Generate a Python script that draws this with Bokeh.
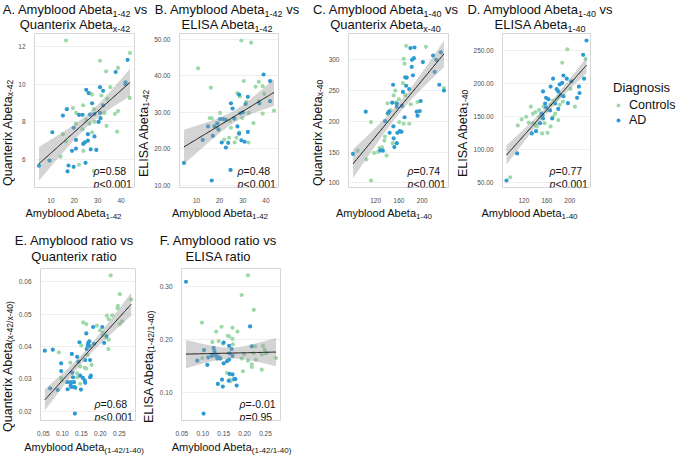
import numpy as np
from bokeh.plotting import figure
from bokeh.models import (Range1d, FixedTicker, PrintfTickFormatter, Label, Div,
                          Legend, LegendItem, Spacer)
from bokeh.layouts import column, row
from bokeh.embed import file_html
from bokeh.resources import INLINE

FONT = "Liberation Sans"
GREEN = "#9dd9a9"
BLUE = "#2e9ad3"

# ---------------- data ----------------
# Panel A: Amyblood Abeta1-42 vs Quanterix Abeta x-42
A_ctrl_x = [16.4, 31.0, 43.8, 38.7, 33.6, 35.4, 43.7, 26.9, 27.6, 23.8, 19.4, 20.8, 28.4, 34.1, 31.6, 38.7, 37.4,
            20.6, 25.1, 26.5, 23.5, 27.6, 38.3, 33.8, 15.1, 16.4, 23.9, 14.1, 22.0, 28.4, 28.7, 32.9]
A_ctrl_y = [12.33, 11.25, 11.67, 10.87, 10.68, 9.84, 9.27, 9.5, 9.45, 8.88, 8.73, 8.47, 8.67, 9.22, 9.4, 8.57, 8.42,
            7.9, 8.1, 7.9, 7.6, 7.44, 7.47, 7.78, 7.34, 6.96, 6.45, 6.14, 5.71, 5.37, 7.99, 8.47]
A_ad_x = [42.8, 37.7, 41.9, 41.9, 31.0, 32.3, 25.1, 26.1, 16.8, 15.1, 22.0, 23.5, 27.6, 26.7, 28.6, 31.0, 32.3, 31.2,
          30.4, 19.7, 10.6, 20.7, 25.8, 23.8, 24.5, 25.8, 28.6, 29.4, 27.0, 19.0, 20.7, 24.8, 17.5, 17.1, 9.4, 4.9, 19.7]
A_ad_y = [11.3, 10.65, 10.1, 10.0, 9.84, 9.65, 9.7, 9.53, 8.67, 8.33, 8.37, 8.37, 8.98, 8.38, 8.42, 8.47, 8.88, 8.19,
          7.99, 7.68, 7.44, 7.03, 7.34, 6.82, 6.9, 6.99, 7.22, 6.5, 6.53, 6.45, 6.57, 5.81, 5.67, 5.36, 5.93, 5.66, 5.6]

# Panel B: Amyblood Abeta1-42 vs ELISA Abeta1-42
B_ctrl_x = [29.4, 33.6, 10.7, 16.2, 30.4, 35.5, 38.6, 36.9, 39.3, 27.7, 28.7, 31.5, 43.5, 20.2, 15.7, 16.6, 18.8,
            19.1, 24.4, 26.5, 29.8, 32.6, 38.6, 24.9, 28.4, 24.1, 22.0, 27.3, 32.5, 26.5, 34.6, 37.0]
B_ctrl_y = [49.6, 49.0, 42.0, 36.7, 38.5, 36.96, 37.1, 38.3, 35.0, 35.2, 34.3, 32.8, 30.4, 29.8, 28.4, 28.3, 27.0,
            25.7, 27.6, 28.1, 28.4, 29.8, 29.6, 25.7, 24.5, 23.0, 22.5, 23.0, 21.7, 21.7, 27.0, 33.0]
B_ad_x = [39.0, 41.8, 28.4, 32.2, 24.9, 25.6, 31.2, 37.2, 41.8, 30.1, 29.0, 26.3, 21.6, 20.2, 22.7, 17.8, 19.1, 15.0,
          19.5, 17.1, 12.7, 27.7, 28.4, 32.2, 29.4, 30.8, 20.9, 22.7, 23.7, 4.6, 24.7, 16.6]
B_ad_y = [40.3, 38.5, 34.8, 34.2, 32.4, 31.0, 32.2, 32.4, 33.0, 30.0, 29.7, 28.3, 28.1, 28.1, 27.9, 26.1, 26.9, 26.1,
          25.2, 23.5, 22.4, 26.1, 24.1, 24.6, 22.3, 21.9, 21.7, 20.3, 21.6, 16.1, 14.2, 11.3]

# Panel C: Amyblood Abeta1-40 vs Quanterix Abeta x-40
C_ctrl_x = [172.3, 206.4, 168.0, 169.6, 166.9, 153.6, 150.9, 160.0, 154.7, 140.3, 140.3, 145.6, 170.7, 192.0, 180.3,
            160.5, 168.0, 177.6, 112.0, 136.0, 134.9, 130.7, 124.3, 126.9, 117.3, 138.7, 149.3, 104.0, 89.1, 112.0, 237.3]
C_ctrl_y = [322.7, 321.1, 301.6, 293.7, 262.0, 250.0, 242.0, 235.6, 230.3, 229.3, 211.9, 218.2, 242.5, 231.4, 227.7,
            198.7, 196.0, 196.0, 198.7, 175.0, 168.6, 157.5, 150.1, 156.5, 148.6, 144.3, 164.4, 138.0, 152.2, 103.7, 254.0]
C_ad_x = [81.1, 102.9, 136.0, 149.9, 148.3, 156.3, 156.3, 165.3, 169.6, 166.9, 170.7, 172.3, 173.3, 177.6, 179.7, 186.7,
          182.4, 185.6, 181.9, 184.0, 195.7, 190.4, 192.0, 201.1, 218.7, 221.3, 224.0, 229.3, 232.0, 237.3, 150.4, 144.0,
          150.9, 157.3, 161.6, 164.3, 156.3, 152.0, 132.3, 128.0, 142.9, 141.3, 197.3]
C_ad_y = [147.0, 215.6, 200.3, 259.4, 230.3, 228.8, 223.5, 225.0, 206.6, 247.8, 271.5, 257.8, 271.0, 252.5, 319.0, 320.0,
          300.0, 302.6, 288.4, 274.7, 216.6, 215.6, 209.2, 296.3, 306.9, 280.5, 300.0, 259.4, 312.1, 250.0, 191.8, 181.3,
          172.3, 181.3, 184.0, 182.9, 164.4, 158.0, 152.2, 152.8, 215.6, 213.5, 233.0]

# Panel D: Amyblood Abeta1-40 vs ELISA Abeta1-40
D_ctrl_x = [195.8, 186.8, 227.5, 201.1, 96.2, 109.4, 116.3, 124.2, 132.2, 135.9, 140.1, 146.5, 154.4, 161.3, 166.6,
            170.9, 177.2, 179.9, 174.6, 170.9, 179.9, 161.3, 151.8, 156.0, 140.1, 142.8, 135.9, 128.5, 147.0, 182.5,
            187.8, 209.0, 166.6]
D_ctrl_y = [252.0, 231.6, 237.4, 191.9, 57.3, 136.2, 145.4, 149.3, 164.8, 154.1, 156.5, 159.9, 164.8, 159.0, 167.7,
            173.5, 175.9, 179.3, 154.1, 149.3, 144.4, 125.0, 124.1, 139.6, 137.2, 134.7, 139.6, 140.6, 149.3, 167.7,
            172.5, 164.8, 134.7]
D_ad_x = [229.1, 223.3, 224.9, 215.9, 217.0, 212.7, 196.8, 202.6, 194.7, 188.9, 186.8, 182.5, 170.9, 166.6, 153.4,
          158.7, 162.9, 177.2, 179.9, 183.6, 188.9, 174.6, 179.9, 165.6, 157.1, 158.7, 152.3, 148.1, 153.4, 141.2,
          133.8, 150.7, 108.3, 89.8, 169.3]
D_ad_y = [265.5, 243.7, 207.4, 195.3, 185.6, 178.3, 170.1, 203.5, 207.4, 212.2, 201.1, 198.7, 207.4, 195.3, 188.0,
          178.3, 175.9, 191.4, 188.0, 183.2, 180.8, 169.6, 161.4, 159.0, 169.6, 163.8, 151.7, 139.6, 146.8, 127.5,
          124.1, 154.1, 93.6, 52.4, 146.8]

# Panel E: Amyblood ratio vs Quanterix ratio
E_ctrl_x = [0.227, 0.251, 0.281, 0.246, 0.245, 0.257, 0.251, 0.231, 0.222, 0.217, 0.155, 0.163, 0.191, 0.199, 0.207,
            0.206, 0.216, 0.222, 0.221, 0.150, 0.091, 0.121, 0.167, 0.177, 0.147, 0.159, 0.163, 0.139, 0.139, 0.097,
            0.099, 0.131, 0.147]
E_ctrl_y = [0.0619, 0.0561, 0.0545, 0.0525, 0.0518, 0.0477, 0.0469, 0.0496, 0.0484, 0.0495, 0.0474, 0.0469, 0.0464,
            0.0450, 0.0442, 0.0435, 0.0426, 0.0421, 0.0392, 0.0403, 0.0382, 0.0350, 0.0374, 0.0343, 0.0338, 0.0334,
            0.0332, 0.0317, 0.0305, 0.0303, 0.0295, 0.0290, 0.0285]
E_ad_x = [0.054, 0.075, 0.097, 0.097, 0.125, 0.145, 0.163, 0.167, 0.168, 0.171, 0.172, 0.181, 0.183, 0.205, 0.216,
          0.210, 0.139, 0.142, 0.164, 0.173, 0.160, 0.126, 0.128, 0.122, 0.130, 0.147, 0.154, 0.159, 0.173, 0.175,
          0.113, 0.122, 0.124, 0.131, 0.134, 0.114, 0.088, 0.068, 0.160, 0.149, 0.133]
E_ad_y = [0.0387, 0.0390, 0.0348, 0.0324, 0.0377, 0.0413, 0.0440, 0.0403, 0.0411, 0.0416, 0.0401, 0.0460, 0.0408,
          0.0460, 0.0432, 0.0411, 0.0368, 0.0353, 0.0392, 0.0358, 0.0358, 0.0319, 0.0305, 0.0290, 0.0290, 0.0310,
          0.0303, 0.0295, 0.0305, 0.0310, 0.0290, 0.0279, 0.0275, 0.0275, 0.0273, 0.0268, 0.0266, 0.0271, 0.0288,
          0.0267, 0.0193]

# Panel F: Amyblood ratio vs ELISA ratio
F_ctrl_x = [0.208, 0.193, 0.222, 0.098, 0.145, 0.171, 0.183, 0.132, 0.160, 0.163, 0.171, 0.123, 0.138, 0.148, 0.172,
            0.225, 0.244, 0.248, 0.250, 0.241, 0.252, 0.275, 0.199, 0.222, 0.193, 0.208, 0.217, 0.217, 0.227, 0.099,
            0.158, 0.196, 0.165, 0.167, 0.241]
F_ctrl_y = [0.321, 0.284, 0.256, 0.232, 0.224, 0.222, 0.215, 0.215, 0.207, 0.206, 0.201, 0.195, 0.197, 0.192, 0.191,
            0.187, 0.188, 0.181, 0.174, 0.172, 0.175, 0.165, 0.172, 0.174, 0.164, 0.160, 0.153, 0.148, 0.162, 0.165,
            0.137, 0.140, 0.124, 0.121, 0.143]
F_ad_x = [0.060, 0.102, 0.213, 0.217, 0.103, 0.087, 0.111, 0.113, 0.126, 0.128, 0.128, 0.131, 0.133, 0.135, 0.139,
          0.142, 0.122, 0.127, 0.150, 0.163, 0.169, 0.171, 0.158, 0.163, 0.150, 0.164, 0.171, 0.175, 0.178, 0.146,
          0.162, 0.136, 0.148, 0.181, 0.164]
F_ad_y = [0.309, 0.060, 0.2247, 0.187, 0.180, 0.160, 0.152, 0.166, 0.184, 0.178, 0.174, 0.171, 0.168, 0.164, 0.166,
          0.164, 0.169, 0.172, 0.194, 0.188, 0.182, 0.169, 0.159, 0.162, 0.155, 0.135, 0.134, 0.125, 0.125, 0.124,
          0.122, 0.116, 0.111, 0.113, 0.174]

# tick values
A_xticks = [10, 20, 30, 40]
A_yticks = [6, 8, 10, 12]
B_xticks = [10, 20, 30, 40]
B_yticks = [10, 20, 30, 40, 50]
C_xticks = [120, 160, 200]
C_yticks = [100, 150, 200, 250, 300]
D_xticks = [120, 160, 200]
D_yticks = [50, 100, 150, 200, 250]
E_xticks = [0.05, 0.10, 0.15, 0.20, 0.25]
E_yticks = [0.02, 0.03, 0.04, 0.05, 0.06]
F_xticks = [0.05, 0.10, 0.15, 0.20, 0.25]
F_yticks = [0.10, 0.20, 0.30]

# statistics text
rho_text = ["=0.58", "=0.48", "=0.74", "=0.77", "=0.68", "=-0.01"]
p_text = ["<0.001", "<0.001", "<0.001", "<0.001", "<0.001", "=0.95"]

titles = [
    "A. Amyblood Abeta<sub>1-42</sub> vs<br>Quanterix Abeta<sub>x-42</sub>",
    "B. Amyblood Abeta<sub>1-42</sub> vs<br>ELISA Abeta<sub>1-42</sub>",
    "C. Amyblood Abeta<sub>1-40</sub> vs<br>Quanterix Abeta<sub>x-40</sub>",
    "D. Amyblood Abeta<sub>1-40</sub> vs<br>ELISA Abeta<sub>1-40</sub>",
    "E. Amyblood ratio vs<br>Quanterix ratio",
    "F. Amyblood ratio vs<br>ELISA ratio",
]
x_labels = [
    "Amyblood Abeta<sub>1-42</sub>", "Amyblood Abeta<sub>1-42</sub>",
    "Amyblood Abeta<sub>1-40</sub>", "Amyblood Abeta<sub>1-40</sub>",
    "Amyblood Abeta<sub>(1-42/1-40)</sub>", "Amyblood Abeta<sub>(1-42/1-40)</sub>",
]
y_labels = [
    "Quanterix Abeta<sub>x-42</sub>", "ELISA Abeta<sub>1-42</sub>",
    "Quanterix Abeta<sub>x-40</sub>", "ELISA Abeta<sub>1-40</sub>",
    "Quanterix Abeta<sub>(x-42/x-40)</sub>", "ELISA Abeta<sub>(1-42/1-40)</sub>",
]
legend_title = "Diagnosis"
groups = ["Controls", "AD"]


def fit(xs, ys):
    x = np.asarray(xs, float)
    y = np.asarray(ys, float)
    n = len(x)
    b, a = np.polyfit(x, y, 1)
    s = np.sqrt(np.sum((y - (a + b * x)) ** 2) / (n - 2))
    xg = np.linspace(x.min(), x.max(), 80)
    sxx = np.sum((x - x.mean()) ** 2)
    se = s * np.sqrt(1.0 / n + (xg - x.mean()) ** 2 / sxx)
    t = 1.96 + 2.4 / (n - 2)
    yg = a + b * xg
    return xg, yg, yg - t * se, yg + t * se


def panel(xc, yc, xa, ya, xticks, yticks, xfmt, yfmt, rho, pv, w, h, bl, br, bt, bb):
    xall = list(xc) + list(xa)
    yall = list(yc) + list(ya)
    xg, yg, lo, hi = fit(xall, yall)
    xmin, xmax = min(xall), max(xall)
    ymin = min(min(yall), lo.min())
    ymax = max(max(yall), hi.max())
    dx = (xmax - xmin) * 0.05
    dy = (ymax - ymin) * 0.05
    p = figure(width=w, height=h, output_backend="svg", toolbar_location=None,
               x_range=Range1d(xmin - dx, xmax + dx), y_range=Range1d(ymin - dy, ymax + dy),
               min_border_left=bl, min_border_right=br, min_border_top=bt, min_border_bottom=bb)
    p.frame_align = False
    p.scatter(xc, yc, size=4.2, fill_color=GREEN, line_color=None)
    p.scatter(xa, ya, size=4.2, fill_color=BLUE, line_color=None)
    p.varea(x=xg, y1=lo, y2=hi, fill_color="#999999", fill_alpha=0.42)
    p.line(xg, yg, line_color="#1a1a1a", line_width=1)

    for ax, ticks, fmt in ((p.xaxis[0], xticks, xfmt), (p.yaxis[0], yticks, yfmt)):
        ax.ticker = FixedTicker(ticks=ticks)
        if fmt:
            ax.formatter = PrintfTickFormatter(format=fmt)
        ax.major_label_text_font = FONT
        ax.major_label_text_font_size = "6.5px"
        ax.major_label_text_color = "#4d4d4d"
        ax.major_label_standoff = 3
        ax.major_tick_line_color = None
        ax.minor_tick_line_color = None
        ax.axis_line_color = None
    p.xaxis.major_label_standoff = 4
    p.xgrid.visible = False
    p.ygrid.ticker = FixedTicker(ticks=yticks)
    p.ygrid.grid_line_color = "#ebebeb"
    p.ygrid.grid_line_width = 0.8
    p.outline_line_color = "#d6d6d6"
    p.outline_line_width = 1
    p.background_fill_color = "white"
    p.border_fill_color = "white"

    xe = p.x_range.end
    ys = p.y_range.start
    for sym, rest, yo in (("\u03c1", rho, 17), ("p", pv, 4)):
        p.add_layout(Label(x=xe, y=ys, x_offset=-41, y_offset=yo, text=sym, text_font=FONT,
                           text_font_style="italic", text_font_size="10.5px",
                           text_baseline="alphabetic", text_align="left", text_color="#111111"))
        p.add_layout(Label(x=xe, y=ys, x_offset=-35, y_offset=yo, text=rest, text_font=FONT,
                           text_font_size="10.5px", text_baseline="alphabetic",
                           text_align="left", text_color="#111111"))
    return p


def sub(html, size, drop):
    return html.replace("<sub>", '<sub style="font-size:%spx;line-height:0;vertical-align:-%spx">' % (size, drop))


def tdiv(html, w, h, top, lh):
    return Div(text=sub(html, 9, 3), width=w, height=h, margin=(top, 0, 0, 0),
               styles={"font-family": FONT, "font-size": "13px", "line-height": "%spx" % lh,
                       "text-align": "center", "color": "#111111", "white-space": "nowrap"})


def xdiv(html, w, h):
    return Div(text=sub(html, 8, 2), width=w, height=h, margin=(0, 0, 0, 0),
               styles={"font-family": FONT, "font-size": "11px", "line-height": "%dpx" % h,
                       "text-align": "center", "color": "#111111", "white-space": "nowrap"})


def ydiv(html, w, h, top, left):
    return Div(text=sub(html, 8.5, 2), width=w, height=h, margin=(top, 0, 0, left),
               styles={"font-family": FONT, "font-size": "12.5px", "line-height": "%dpx" % w,
                       "text-align": "center", "color": "#111111", "white-space": "nowrap",
                       "writing-mode": "vertical-rl", "transform": "rotate(180deg)"})


H1 = 173
H2 = 173
pA = panel(A_ctrl_x, A_ctrl_y, A_ad_x, A_ad_y, A_xticks, A_yticks, None, None,
           rho_text[0], p_text[0], 122, H1, 10, 3, 1, 11)
pB = panel(B_ctrl_x, B_ctrl_y, B_ad_x, B_ad_y, B_xticks, B_yticks, None, "%.2f",
           rho_text[1], p_text[1], 130, H1, 21, 3, 1, 11)
pC = panel(C_ctrl_x, C_ctrl_y, C_ad_x, C_ad_y, C_xticks, C_yticks, None, None,
           rho_text[2], p_text[2], 126, H1, 16, 3, 1, 11)
pD = panel(D_ctrl_x, D_ctrl_y, D_ad_x, D_ad_y, D_xticks, D_yticks, None, "%.2f",
           rho_text[3], p_text[3], 123, H1, 23, 3, 1, 11)
pE = panel(E_ctrl_x, E_ctrl_y, E_ad_x, E_ad_y, E_xticks, E_yticks, "%.2f", "%.2f",
           rho_text[4], p_text[4], 123, H2, 17, 3, 3, 11)
pF = panel(F_ctrl_x, F_ctrl_y, F_ad_x, F_ad_y, F_xticks, F_yticks, "%.2f", "%.2f",
           rho_text[5], p_text[5], 127, H2, 16, 3, 3, 11)

# legend panel
pL = figure(width=83, height=H1, output_backend="svg", toolbar_location=None,
            x_range=Range1d(0, 1), y_range=Range1d(0, 1), x_axis_type=None, y_axis_type=None,
            min_border_left=20, min_border_top=48, min_border_right=0, min_border_bottom=0,
            outline_line_color=None)
pL.frame_align = False
pL.xgrid.visible = False
pL.ygrid.visible = False
rc = pL.scatter([np.nan], [np.nan], size=5, fill_color=GREEN, line_color=None)
ra = pL.scatter([np.nan], [np.nan], size=5, fill_color=BLUE, line_color=None)
leg = Legend(items=[LegendItem(label=groups[0], renderers=[rc]), LegendItem(label=groups[1], renderers=[ra])],
             title=legend_title, location="top_left")
leg.title_text_font = FONT
leg.title_text_font_size = "13px"
leg.title_text_font_style = "normal"
leg.title_text_color = "#111111"
leg.label_text_font = FONT
leg.label_text_font_size = "12.5px"
leg.label_text_color = "#111111"
leg.border_line_color = None
leg.background_fill_alpha = 0
leg.padding = 0
leg.margin = 0
leg.spacing = 1
leg.glyph_width = 10
leg.glyph_height = 14
leg.label_height = 14
leg.label_standoff = 6
leg.title_standoff = 3
pL.add_layout(leg)

t1 = row(tdiv(titles[0], 150, 30, 2, 15), tdiv(titles[1], 154, 30, 2, 15),
         tdiv(titles[2], 163, 30, 2, 15), tdiv(titles[3], 146, 30, 2, 15))
r1 = row(ydiv(y_labels[0], 14, 140, 31, 1), pA,
         ydiv(y_labels[1], 14, 140, 31, 0), pB,
         ydiv(y_labels[2], 14, 140, 31, 30), pC,
         ydiv(y_labels[3], 14, 140, 31, 5), pD, pL)
x1 = row(xdiv(x_labels[0], 147, 16), xdiv(x_labels[1], 146, 16),
         xdiv(x_labels[2], 182, 16), xdiv(x_labels[3], 109, 16))
t2 = row(tdiv(titles[4], 148, 32, 12, 16), tdiv(titles[5], 140, 32, 12, 16))
r2 = row(ydiv(y_labels[4], 14, 140, 32, 1), pE,
         ydiv(y_labels[5], 14, 140, 32, 4), pF)
x2 = row(xdiv(x_labels[4], 168, 18), xdiv(x_labels[5], 127, 18))

layout = column(t1, r1, x1, t2, r2, x2)

with open("out.html", "w") as f:
    f.write(file_html(layout, INLINE))
